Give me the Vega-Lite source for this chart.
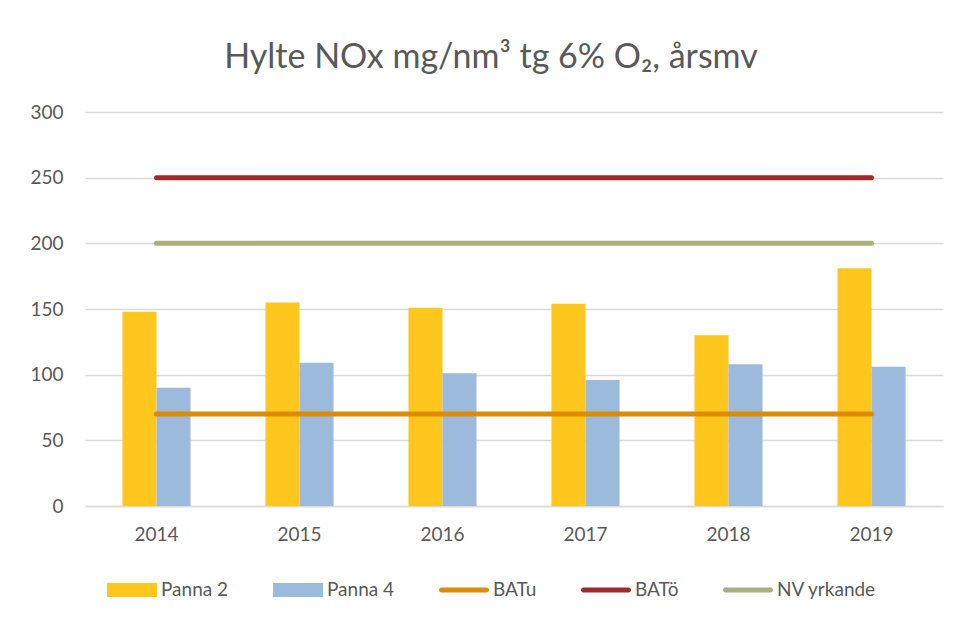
{
  "$schema": "https://vega.github.io/schema/vega-lite/v6.json",
  "width": 858,
  "height": 394,
  "autosize": {"type": "none"},
  "padding": {"left": 85, "top": 112, "right": 19, "bottom": 117},
  "background": "white",
  "title": {
    "text": "Hylte NOx mg/nm³ tg 6% O₂, årsmv",
    "font": "Lato",
    "fontSize": 34,
    "fontWeight": "normal",
    "color": "#595959",
    "anchor": "middle",
    "dx": -23,
    "offset": 28
  },
  "config": {
    "view": {"stroke": null},
    "font": "Lato"
  },
  "data": {
    "values": [
      {"year": "2014", "serie": "Panna 2", "value": 148},
      {"year": "2015", "serie": "Panna 2", "value": 155},
      {"year": "2016", "serie": "Panna 2", "value": 151},
      {"year": "2017", "serie": "Panna 2", "value": 154},
      {"year": "2018", "serie": "Panna 2", "value": 130},
      {"year": "2019", "serie": "Panna 2", "value": 181},
      {"year": "2014", "serie": "Panna 4", "value": 90},
      {"year": "2015", "serie": "Panna 4", "value": 109},
      {"year": "2016", "serie": "Panna 4", "value": 101},
      {"year": "2017", "serie": "Panna 4", "value": 96},
      {"year": "2018", "serie": "Panna 4", "value": 108},
      {"year": "2019", "serie": "Panna 4", "value": 106},
      {"year": "2014", "serie": "BATu", "value": 70},
      {"year": "2015", "serie": "BATu", "value": 70},
      {"year": "2016", "serie": "BATu", "value": 70},
      {"year": "2017", "serie": "BATu", "value": 70},
      {"year": "2018", "serie": "BATu", "value": 70},
      {"year": "2019", "serie": "BATu", "value": 70},
      {"year": "2014", "serie": "BATö", "value": 250},
      {"year": "2015", "serie": "BATö", "value": 250},
      {"year": "2016", "serie": "BATö", "value": 250},
      {"year": "2017", "serie": "BATö", "value": 250},
      {"year": "2018", "serie": "BATö", "value": 250},
      {"year": "2019", "serie": "BATö", "value": 250},
      {"year": "2014", "serie": "NV yrkande", "value": 200},
      {"year": "2015", "serie": "NV yrkande", "value": 200},
      {"year": "2016", "serie": "NV yrkande", "value": 200},
      {"year": "2017", "serie": "NV yrkande", "value": 200},
      {"year": "2018", "serie": "NV yrkande", "value": 200},
      {"year": "2019", "serie": "NV yrkande", "value": 200}
    ]
  },
  "encoding": {
    "x": {
      "field": "year",
      "type": "nominal",
      "scale": {"paddingInner": 0.524, "paddingOuter": 0.262},
      "axis": {
        "title": null,
        "labelAngle": 0,
        "labelFontSize": 19,
        "labelColor": "#595959",
        "labelPadding": 19,
        "ticks": false,
        "domainColor": "#D9D9D9",
        "domainWidth": 1.5,
        "grid": false
      }
    },
    "y": {
      "field": "value",
      "type": "quantitative",
      "scale": {"domain": [0, 300], "nice": false},
      "axis": {
        "title": null,
        "values": [0, 50, 100, 150, 200, 250, 300],
        "labelFontSize": 19,
        "labelColor": "#595959",
        "labelPadding": 22,
        "ticks": false,
        "domain": false,
        "gridColor": "#D9D9D9",
        "gridWidth": 1.5
      }
    },
    "color": {
      "field": "serie",
      "type": "nominal",
      "scale": {
        "domain": ["Panna 2", "Panna 4", "BATu", "BATö", "NV yrkande"],
        "range": ["#FFC61E", "#9CBADC", "#E08A00", "#A3282A", "#ABB07A"]
      },
      "legend": {
        "title": null,
        "orient": "none",
        "direction": "horizontal",
        "columns": 5,
        "legendX": 22,
        "legendY": 453,
        "labelFontSize": 19,
        "labelColor": "#595959",
        "labelFont": "Lato",
        "labelOffset": 4,
        "columnPadding": 44,
        "symbolSize": 2500,
        "padding": 0,
        "encode": {
          "symbols": {
            "update": {
              "shape": {"signal": "(datum.value == 'Panna 2' || datum.value == 'Panna 4') ? 'M-1,-0.28H1V0.28H-1Z' : 'M-0.9,-0.1H0.9A0.1,0.1 0 0 1 0.9,0.1H-0.9A0.1,0.1 0 0 1 -0.9,-0.1Z'"},
              "fill": {"scale": "color", "field": "value"},
              "fillOpacity": {"value": 1},
              "strokeWidth": {"value": 0}
            }
          }
        }
      }
    }
  },
  "layer": [
    {
      "transform": [{"filter": "datum.serie == 'Panna 2' || datum.serie == 'Panna 4'"}],
      "mark": {"type": "bar"},
      "encoding": {
        "xOffset": {
          "field": "serie",
          "type": "nominal",
          "scale": {"domain": ["Panna 2", "Panna 4"], "paddingInner": 0, "paddingOuter": 0}
        }
      }
    },
    {
      "transform": [{"filter": "datum.serie != 'Panna 2' && datum.serie != 'Panna 4'"}],
      "mark": {"type": "line", "strokeWidth": 5, "strokeCap": "round"},
      "encoding": {
        "detail": {"field": "serie", "type": "nominal"}
      }
    }
  ]
}
